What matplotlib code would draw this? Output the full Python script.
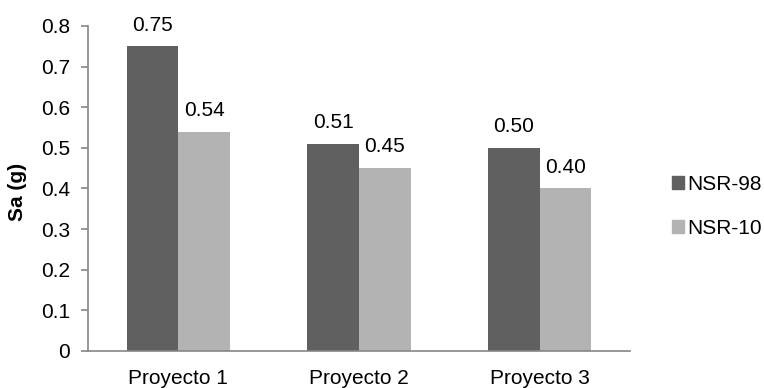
import matplotlib
matplotlib.use("Agg")
import matplotlib.pyplot as plt
import numpy as np
from matplotlib.patches import Patch

plt.rcParams['font.family'] = ['Liberation Sans', 'DejaVu Sans']

categories = ["Proyecto 1", "Proyecto 2", "Proyecto 3"]
series_names = ["NSR-98", "NSR-10"]
nsr98 = [0.75, 0.51, 0.50]
nsr10 = [0.54, 0.45, 0.40]
y_ticks = [0, 0.1, 0.2, 0.3, 0.4, 0.5, 0.6, 0.7, 0.8]
y_ticklabels = ["0", "0.1", "0.2", "0.3", "0.4", "0.5", "0.6", "0.7", "0.8"]

dark = "#606060"
light = "#b3b3b3"
axis_gray = "#868686"
fs = 15

fig = plt.figure(figsize=(7.64, 3.88), dpi=100)
ax = fig.add_axes([0.1152, 0.0954, 0.7094, 0.8376])

x = np.arange(len(categories))
w = 1 / 3.5
b1 = ax.bar(x - w / 2, nsr98, width=w, color=dark, label=series_names[0])
b2 = ax.bar(x + w / 2, nsr10, width=w, color=light, label=series_names[1])

for bars, vals in ((b1, nsr98), (b2, nsr10)):
    for rect, v in zip(bars, vals):
        ax.annotate(f"{v:.2f}", (rect.get_x() + rect.get_width() / 2, v),
                    xytext=(0, 8.5), textcoords="offset points",
                    ha="center", va="bottom", fontsize=fs)

ax.set_xlim(-0.5, len(categories) - 0.5)
ax.set_ylim(0, 0.8)
ax.set_yticks(y_ticks)
ax.set_yticklabels(y_ticklabels, fontsize=fs)
ax.set_xticks(x)
ax.set_xticklabels(categories, fontsize=fs)
ax.tick_params(axis="x", length=0, pad=13)
ax.tick_params(axis="y", length=5, width=1.2, color=axis_gray, pad=8)
for s in ("top", "right"):
    ax.spines[s].set_visible(False)
for s in ("left", "bottom"):
    ax.spines[s].set_color(axis_gray)
    ax.spines[s].set_linewidth(1.2)

ax.set_ylabel("Sa (g)", fontsize=fs, fontweight="bold", va="center")
ax.yaxis.set_label_coords(-0.131, 0.49)

handles = [Patch(color=dark), Patch(color=light)]
fig.legend(handles, series_names, loc="center left", bbox_to_anchor=(0.8796, 0.468),
           frameon=False, fontsize=fs, handlelength=0.58, handleheight=0.58,
           handletextpad=0.15, labelspacing=1.2, borderaxespad=0, borderpad=0)

fig.savefig("out.png", dpi=100)
